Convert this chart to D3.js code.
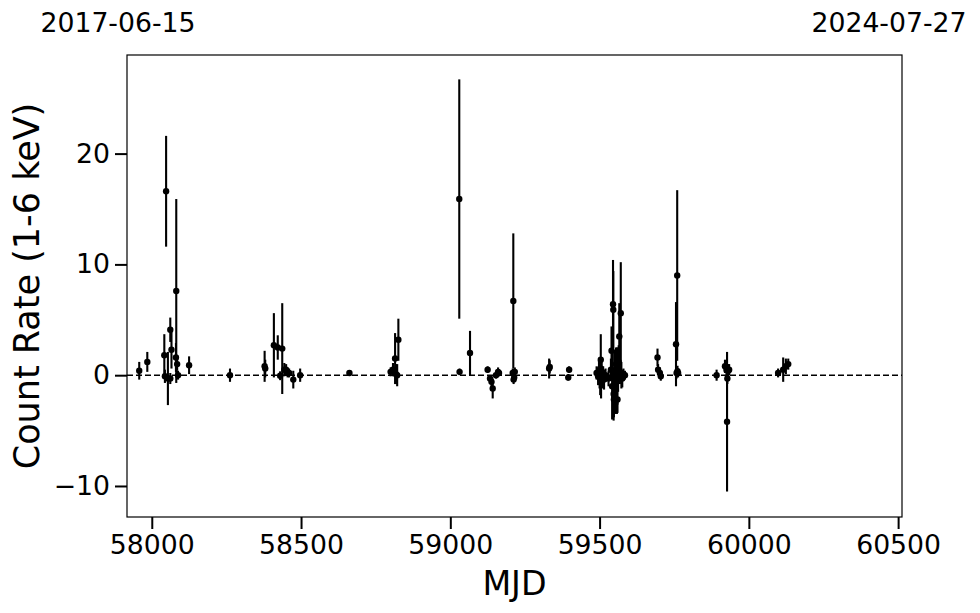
<!DOCTYPE html>
<html>
<head>
<meta charset="utf-8">
<script src="https://cdn.jsdelivr.net/npm/d3@7"></script>
<style>
  body { margin: 0; background: #fff; }
  svg { display: block; font-family: "DejaVu Sans", sans-serif; }
</style>
</head>
<body>
<svg id="chart" width="980" height="613"></svg>
<script>
// ---- data (MJD, count rate, 1-sigma error) ----
const mjd = [
  57958, 57985, 58042, 58044, 58048, 58054, 58062, 58062, 58066, 58081, 58082, 58085, 58088, 58125,
  58262,
  58378, 58380, 58409, 58422, 58430, 58437, 58444, 58450, 58455, 58460, 58474, 58497,
  58662, 58800, 58808, 58815, 58818, 58822, 58826,
  59030, 59031, 59066, 59125, 59133, 59138, 59142, 59153, 59160, 59163, 59209, 59211, 59212, 59214, 59216,
  59331, 59333, 59395, 59398,
  59490, 59495, 59498, 59500, 59502, 59503, 59504, 59505, 59507, 59509, 59512, 59515, 59520, 59530,
  59538, 59540, 59542, 59544, 59545, 59546, 59547, 59548, 59550, 59552, 59553, 59555, 59558, 59560,
  59562, 59564, 59566, 59568, 59571, 59573, 59576, 59580, 59585,
  59694, 59696, 59702, 59705, 59756, 59758, 59760, 59761, 59763,
  59892, 59920, 59925, 59927, 59928, 59931, 59934,
  60098, 60115, 60124, 60132
];
const rate = [
  0.4, 1.2, 1.8, -0.1, 16.6, -0.3, 4.1, -0.3, 2.3, 1.6, 7.6, 1.0, 0.0, 0.9,
  0.0,
  0.8, 0.6, 2.7, 2.5, -0.05, 2.4, 0.5, 0.5, 0.2, 0.2, -0.4, 0.0,
  0.2, 0.3, 0.5, 1.5, 0.1, 0.0, 3.2,
  15.9, 0.3, 2.0, 0.5, -0.3, -0.6, -1.2, 0.0, 0.3, 0.2, 0.2, 6.7, -0.4, -0.2, 0.3,
  0.6, 0.75, -0.2, 0.5,
  0.2, -0.1, 0.4, 0.0, -0.3, 0.6, 1.4, -0.5, 0.3, -0.2, 0.1, -0.4, 0.0, -0.3,
  0.5, 2.2, -1.0, 0.4, 6.4, 5.9, -1.7, -2.2, 0.3, -0.8, -2.5, 1.0, -0.5, -2.2,
  0.5, 1.2, 3.5, 0.2, 5.6, 0.0, -0.3, 0.1, 0.0,
  1.6, 0.5, 0.2, -0.1, 2.8, 0.2, 9.0, 0.35, 0.2,
  0.0, 0.8, 0.5, -4.2, -0.3, 0.4, 0.5,
  0.2, 0.5, 0.8, 1.0
];
const err = [
  0.8, 0.9, 1.9, 0.6, 5.0, 2.4, 1.1, 0.5, 1.7, 1.3, 8.3, 0.6, 0.4, 0.8,
  0.6,
  1.4, 0.8, 2.9, 1.1, 0.4, 4.1, 0.6, 0.5, 0.4, 0.4, 0.8, 0.6,
  0.2, 0.4, 0.6, 2.3, 0.9, 1.0, 1.9,
  10.8, 0.3, 2.0, 0.3, 0.3, 0.4, 0.9, 0.3, 0.4, 0.3, 0.4, 6.1, 0.4, 0.4, 0.4,
  0.9, 0.6, 0.3, 0.3,
  0.6, 0.8, 1.0, 1.2, 1.5, 0.9, 2.3, 1.6, 1.3, 1.0, 0.7, 0.9, 0.6, 0.7,
  1.0, 2.2, 3.0, 1.6, 4.0, 3.5, 2.4, 1.6, 2.0, 2.6, 1.0, 1.5, 3.0, 1.2,
  2.0, 1.5, 3.0, 1.0, 4.6, 1.2, 0.8, 0.5, 0.4,
  0.8, 0.5, 0.5, 0.4, 3.8, 0.5, 7.7, 0.5, 0.4,
  0.5, 0.6, 0.6, 6.3, 0.5, 0.6, 0.5,
  0.4, 1.1, 0.7, 0.5
];
const xTicks = [58000, 58500, 59000, 59500, 60000, 60500];
const yTicks = [-10, 0, 10, 20];
const dateLabels = ["2017-06-15", "2024-07-27"];
const xLabel = "MJD";
const yLabel = "Count Rate (1-6 keV)";

// ---- layout ----
const L = 127, R = 902, T = 55, B = 517;
const svg = d3.select("#chart");
const x = d3.scaleLinear().domain([57917, 60513]).range([L, R]);
const y = d3.scaleLinear().domain([-12.8, 28.9]).range([B, T]);

const pts = mjd.map((m, i) => ({ m, v: rate[i], e: err[i] }));

// zero dashed line
svg.append("line")
  .attr("x1", L).attr("x2", R)
  .attr("y1", y(0)).attr("y2", y(0))
  .attr("stroke", "#000").attr("stroke-width", 1.6)
  .attr("stroke-dasharray", "6,3");

// error bars
svg.append("g").selectAll("line").data(pts).join("line")
  .attr("x1", d => x(d.m)).attr("x2", d => x(d.m))
  .attr("y1", d => y(d.v - d.e)).attr("y2", d => y(d.v + d.e))
  .attr("stroke", "#000").attr("stroke-width", 2.1);

// points
svg.append("g").selectAll("circle").data(pts).join("circle")
  .attr("cx", d => x(d.m)).attr("cy", d => y(d.v)).attr("r", 3.2)
  .attr("fill", "#000");

// frame
svg.append("rect").attr("x", L).attr("y", T).attr("width", R - L).attr("height", B - T)
  .attr("fill", "none").attr("stroke", "#000").attr("stroke-width", 1.2);

// x axis
const xa = svg.append("g").attr("transform", `translate(0,${B})`)
  .call(d3.axisBottom(x).tickValues(xTicks).tickFormat(d3.format("d")).tickSize(12).tickPadding(6));
xa.select(".domain").remove();
xa.selectAll(".tick line").attr("stroke-width", 2);
xa.selectAll(".tick text").attr("font-size", "26.7px").attr("font-family", "DejaVu Sans").attr("fill", "#000");

// y axis
const ya = svg.append("g").attr("transform", `translate(${L},0)`)
  .call(d3.axisLeft(y).tickValues(yTicks).tickFormat(d3.format("d")).tickSize(12).tickPadding(5));
ya.select(".domain").remove();
ya.selectAll(".tick line").attr("stroke-width", 2);
ya.selectAll(".tick text").attr("font-size", "26.7px").attr("font-family", "DejaVu Sans").attr("fill", "#000");

// axis labels
svg.append("text").attr("x", (L + R) / 2).attr("y", 595)
  .attr("text-anchor", "middle").attr("font-size", "33.3px").text(xLabel);
svg.append("text").attr("transform", `translate(39,${(T + B) / 2}) rotate(-90)`)
  .attr("text-anchor", "middle").attr("font-size", "35px").text(yLabel);

// top date labels
svg.append("text").attr("x", 118).attr("y", 32).attr("text-anchor", "middle")
  .attr("font-size", "26.7px").text(dateLabels[0]);
svg.append("text").attr("x", 889).attr("y", 32).attr("text-anchor", "middle")
  .attr("font-size", "26.7px").text(dateLabels[1]);
</script>
</body>
</html>
